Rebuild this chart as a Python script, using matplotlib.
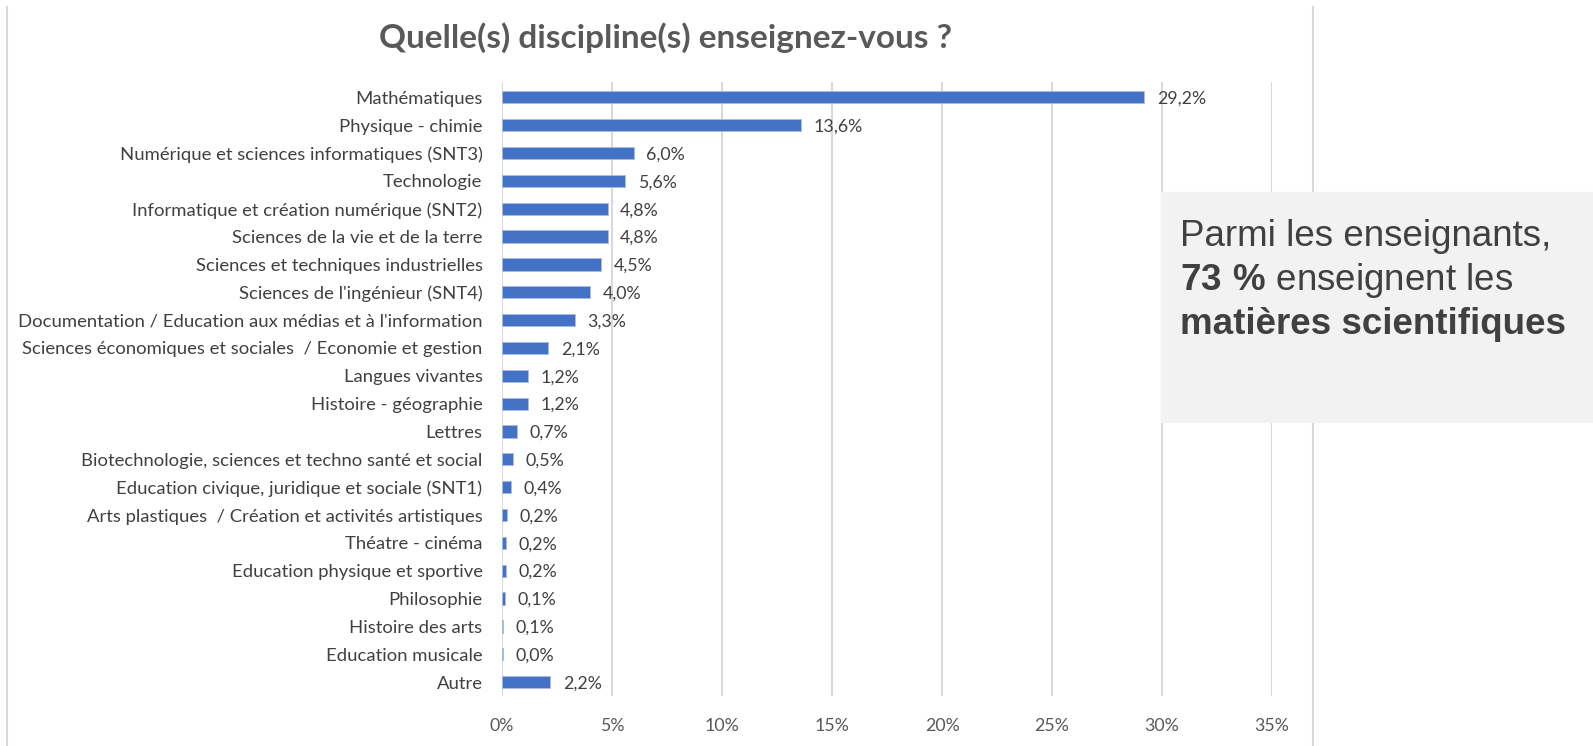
import matplotlib.pyplot as plt
from matplotlib.lines import Line2D
from matplotlib.patches import Rectangle

plt.rcParams["mathtext.fontset"] = "custom"
plt.rcParams["mathtext.bf"] = "Liberation Sans:bold"
plt.rcParams["mathtext.rm"] = "Liberation Sans"

categories = [
    "Mathématiques",
    "Physique - chimie",
    "Numérique et sciences informatiques (SNT3)",
    "Technologie",
    "Informatique et création numérique (SNT2)",
    "Sciences de la vie et de la terre",
    "Sciences et techniques industrielles",
    "Sciences de l'ingénieur (SNT4)",
    "Documentation / Education aux médias et à l'information",
    "Sciences économiques et sociales  / Economie et gestion",
    "Langues vivantes",
    "Histoire - géographie",
    "Lettres",
    "Biotechnologie, sciences et techno santé et social",
    "Education civique, juridique et sociale (SNT1)",
    "Arts plastiques  / Création et activités artistiques",
    "Théatre - cinéma",
    "Education physique et sportive",
    "Philosophie",
    "Histoire des arts",
    "Education musicale",
    "Autre",
]
values = [29.2, 13.6, 6.0, 5.6, 4.8, 4.8, 4.5, 4.0, 3.3, 2.1, 1.2, 1.2,
          0.7, 0.5, 0.4, 0.24, 0.18, 0.17, 0.13, 0.07, 0.03, 2.2]
xticks = [0, 5, 10, 15, 20, 25, 30, 35]

blue = "#4472C4"
text_col = "#404040"
grid_col = "#d9d9d9"

fig = plt.figure(figsize=(15.93, 7.46), dpi=100)
ax = fig.add_axes([0.3151, 0.067, 0.4834, 0.823])

ypos = list(range(len(categories)))
ax.barh(ypos, values, height=0.44, color=blue, edgecolor="#aabbe0",
        linewidth=0.6, zorder=3)
ax.set_ylim(len(categories) - 0.5, -0.55)
ax.set_xlim(0, 35)

for y, v in zip(ypos, values):
    ax.annotate(f"{v:.1f}%".replace(".", ","), (v, y), xytext=(9, -1),
                textcoords="offset points", va="center", ha="left",
                fontsize=12.8, color=text_col, family="Lato")

ax.set_yticks(ypos)
ax.set_yticklabels(categories, fontsize=13.3, color=text_col, family="Lato")
ax.set_xticks(xticks)
ax.set_xticklabels([f"{t}%" for t in xticks], fontsize=12.8,
                   color="#595959", family="Lato")
ax.tick_params(axis="both", length=0)
ax.tick_params(axis="y", pad=14)
ax.tick_params(axis="x", pad=16)
ax.grid(axis="x", color=grid_col, linewidth=1.5, zorder=0)
for s in ax.spines.values():
    s.set_visible(False)

fig.text(0.418, 0.949, "Quelle(s) discipline(s) enseignez-vous ?",
         ha="center", va="center", fontsize=24, fontweight="bold",
         color="#595959", family="Lato")

# outer frame lines of the original chart area
fig.add_artist(Line2D([0.0045, 0.0045], [0, 0.99], color=grid_col, lw=1.5))
fig.add_artist(Line2D([0.824, 0.824], [0, 0.99], color=grid_col, lw=1.5))

# callout box
fig.add_artist(Rectangle((0.7285, 0.434), 0.2715, 0.309,
                         transform=fig.transFigure, color="#f2f2f2", zorder=5))
fig.text(0.741, 0.683, "Parmi les enseignants,", fontsize=26.5,
         color=text_col, family="Liberation Sans", va="center", zorder=6)
fig.text(0.741, 0.624, r"$\bf{73\ \%}$ enseignent les", fontsize=26.5,
         color=text_col, family="Liberation Sans", va="center", zorder=6)
fig.text(0.741, 0.565, "matières scientifiques", fontsize=26.5,
         fontweight="bold", color=text_col, family="Liberation Sans",
         va="center", zorder=6)

fig.savefig("out.png", dpi=100)
